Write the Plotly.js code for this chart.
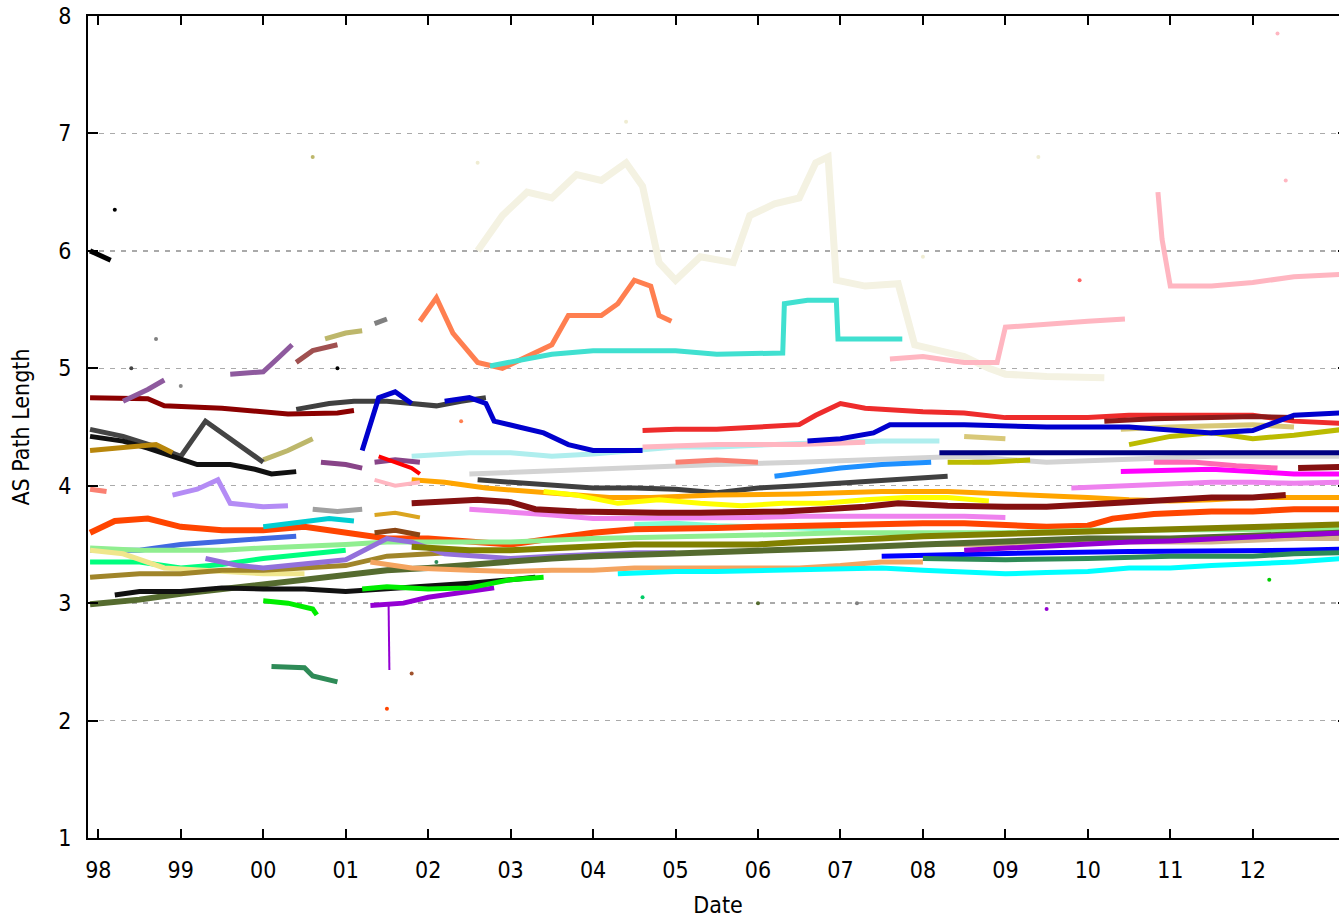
<!DOCTYPE html>
<html><head><meta charset="utf-8">
<script src="https://cdn.plot.ly/plotly-3.0.1.min.js"></script>
<style>html,body{margin:0;padding:0;overflow:hidden;background:#fff}#chart{width:1350px;height:918px}</style>
</head><body><div id="chart"></div>
<script>
// ---- tick labels ----
const tickYears = [1998,1999,2000,2001,2002,2003,2004,2005,2006,2007,2008,2009,2010,2011,2012];
const tickLabels = ['98','99','00','01','02','03','04','05','06','07','08','09','10','11','12'];
const yTicks = [1,2,3,4,5,6,7,8];

// ---- series: [decimal year, AS path length] (null = gap) ----
const sBeige = [[2002.6,6.0],[2002.9,6.3],[2003.2,6.5],[2003.5,6.45],[2003.8,6.65],[2004.1,6.6],[2004.4,6.75],[2004.6,6.55],[2004.8,5.9],[2005.0,5.75],[2005.3,5.95],[2005.7,5.9],[2005.9,6.3],[2006.2,6.4],[2006.5,6.45],[2006.7,6.75],[2006.85,6.8],[2006.95,5.75],[2007.3,5.7],[2007.7,5.72],[2007.9,5.2],[2008.2,5.15],[2008.5,5.1],[2008.8,5.0],[2009.0,4.95],[2009.5,4.93],[2010.0,4.92],[2010.2,4.92]];
const sBlackTopL = [[1997.9,6.0],[1998.15,5.92]];
const sMaroonTop = [[1997.9,4.75],[1998.6,4.74],[1998.8,4.68],[1999.5,4.66],[2000.3,4.61],[2000.9,4.62],[2001.1,4.64]];
const sPurple = [[1998.3,4.72],[1998.6,4.82],[1998.8,4.9],[1999.0,null],[1999.6,4.95],[2000.0,4.97],[2000.2,5.1],[2000.35,5.2]];
const sSienna = [[2000.4,5.05],[2000.6,5.15],[2000.9,5.2]];
const sKhakiDark = [[2000.0,4.22],[2000.3,4.3],[2000.6,4.4],[2000.7,null],[2000.75,5.25],[2001.0,5.3],[2001.2,5.32]];
const sGrayTop = [[2001.35,5.38],[2001.5,5.42]];
const sDarkGrayA = [[1997.9,4.48],[1998.3,4.42],[1998.7,4.33],[1999.0,4.25],[1999.3,4.55],[1999.5,4.45],[1999.8,4.3],[2000.0,4.2]];
const sBlackA = [[1997.9,4.42],[1998.3,4.38],[1998.6,4.32],[1998.9,4.25],[1999.2,4.18],[1999.6,4.18],[1999.9,4.14],[2000.1,4.1],[2000.4,4.12]];
const sDarkGrayB = [[2000.4,4.65],[2000.8,4.7],[2001.1,4.72],[2001.5,4.72],[2001.8,4.7],[2002.1,4.68],[2002.4,4.72],[2002.7,4.75]];
const sGoldenTop = [[1997.9,4.3],[1998.3,4.32],[1998.7,4.35],[1998.9,4.28]];
const sBlueA = [[2001.2,4.3],[2001.4,4.75],[2001.6,4.8],[2001.8,4.7],[2002.0,null],[2002.2,4.72],[2002.5,4.75],[2002.7,4.7],[2002.8,4.55],[2003.1,4.5],[2003.4,4.45],[2003.7,4.35],[2004.0,4.3],[2004.6,4.3],[2005.0,null],[2006.6,4.38],[2007.0,4.4],[2007.4,4.45],[2007.6,4.52],[2008.5,4.52],[2009.5,4.5],[2010.5,4.5],[2011.0,4.47],[2011.5,4.45],[2012.0,4.47],[2012.5,4.6],[2013.1,4.62]];
const sCoral = [[2001.9,5.4],[2002.1,5.6],[2002.3,5.3],[2002.6,5.05],[2002.9,5.0],[2003.2,5.1],[2003.5,5.2],[2003.7,5.45],[2004.1,5.45],[2004.3,5.55],[2004.5,5.75],[2004.7,5.7],[2004.8,5.45],[2004.95,5.4]];
const sTurquoise = [[2002.75,5.02],[2003.0,5.05],[2003.5,5.12],[2004.0,5.15],[2004.5,5.15],[2005.0,5.15],[2005.5,5.12],[2006.0,5.12],[2006.3,5.13],[2006.32,5.55],[2006.6,5.58],[2006.95,5.58],[2006.97,5.25],[2007.5,5.25],[2007.75,5.25]];
const sPink = [[2007.6,5.08],[2008.0,5.1],[2008.5,5.05],[2008.9,5.05],[2009.0,5.35],[2009.5,5.38],[2010.0,5.4],[2010.45,5.42],[2010.6,null],[2010.85,6.5],[2010.9,6.1],[2010.95,5.9],[2011.0,5.7],[2011.5,5.7],[2012.0,5.73],[2012.5,5.78],[2013.1,5.8]];
const sRed = [[2004.6,4.47],[2005.0,4.48],[2005.5,4.48],[2006.0,4.5],[2006.5,4.52],[2006.7,4.6],[2007.0,4.7],[2007.3,4.66],[2008.0,4.63],[2008.5,4.62],[2009.0,4.58],[2009.5,4.58],[2010.0,4.58],[2010.5,4.6],[2011.0,4.6],[2011.5,4.6],[2012.0,4.6],[2012.5,4.55],[2013.1,4.53]];
const sMaroonHigh = [[2010.2,4.55],[2010.8,4.57],[2011.5,4.58],[2012.0,4.59],[2012.5,4.58]];
const sNavy = [[2008.2,4.28],[2009.0,4.28],[2010.0,4.29],[2011.0,4.28],[2012.0,4.28],[2013.1,4.28]];
const sPaleTurq = [[2001.8,4.25],[2002.5,4.28],[2003.0,4.28],[2003.5,4.25],[2004.0,4.27],[2004.6,4.3],[2005.0,4.33],[2005.5,4.33],[2006.0,4.35],[2006.5,4.36],[2007.0,4.37],[2007.5,4.38],[2008.2,4.38]];
const sPinkMid = [[2004.6,4.33],[2005.5,4.35],[2006.5,4.35],[2007.3,4.37],[2008.0,null],[2008.6,4.2],[2009.3,4.22]];
const sLightGray = [[2002.5,4.1],[2003.5,4.13],[2004.5,4.15],[2005.5,4.18],[2006.5,4.2],[2007.5,4.23],[2008.5,4.25],[2009.5,4.2],[2010.5,4.22],[2011.5,4.25],[2012.5,4.25],[2013.1,4.25]];
const sDodger = [[2006.2,4.08],[2006.6,4.12],[2007.0,4.15],[2007.5,4.18],[2008.1,4.2]];
const sDarkGrayC = [[2002.6,4.05],[2003.0,4.03],[2003.5,4.0],[2004.0,3.98],[2004.5,3.98],[2005.0,3.97],[2005.5,3.94],[2006.0,3.98],[2006.5,4.0],[2007.0,4.02],[2007.5,4.05],[2008.0,4.07],[2008.3,4.08]];
const sMaroon = [[2001.8,3.85],[2002.2,3.87],[2002.6,3.88],[2003.0,3.86],[2003.3,3.8],[2003.8,3.78],[2004.3,3.77],[2004.8,3.77],[2005.3,3.77],[2005.8,3.77],[2006.3,3.78],[2006.8,3.8],[2007.3,3.82],[2007.7,3.85],[2008.3,3.83],[2009.0,3.82],[2009.5,3.82],[2010.0,3.84],[2010.5,3.86],[2011.0,3.88],[2011.5,3.9],[2012.0,3.9],[2012.4,3.92],[2012.5,null],[2012.55,4.15],[2013.1,4.16]];
const sOrange = [[2001.8,4.05],[2002.2,4.03],[2002.7,3.98],[2003.2,3.95],[2003.7,3.92],[2004.2,3.9],[2004.7,3.9],[2005.5,3.92],[2006.5,3.93],[2007.5,3.95],[2008.3,3.95],[2009.0,3.93],[2009.5,3.92],[2010.0,3.9],[2010.5,3.88],[2011.0,3.87],[2011.5,3.88],[2012.0,3.9],[2012.5,3.9],[2013.1,3.9]];
const sYellow = [[2003.4,3.95],[2003.8,3.92],[2004.3,3.85],[2004.8,3.88],[2005.3,3.85],[2005.8,3.83],[2006.3,3.85],[2006.8,3.85],[2007.3,3.88],[2007.8,3.9],[2008.3,3.9],[2008.8,3.87]];
const sViolet = [[2002.5,3.8],[2003.0,3.78],[2003.5,3.75],[2004.0,3.72],[2004.5,3.72],[2005.0,3.73],[2005.5,3.72],[2006.0,3.73],[2006.5,3.74],[2007.0,3.74],[2007.5,3.74],[2008.0,3.75],[2008.5,3.74],[2009.0,3.73],[2009.4,null],[2009.8,3.98],[2010.5,4.0],[2011.0,4.02],[2011.5,4.03],[2012.0,4.03],[2012.5,4.02],[2013.1,4.03]];
const sMagenta = [[2010.4,4.12],[2011.0,4.13],[2011.5,4.14],[2012.0,4.12],[2012.5,4.1],[2013.1,4.1]];
const sHotPink = [[2010.8,4.2],[2011.3,4.2],[2011.8,4.17],[2012.3,4.15]];
const sOliveYellow = [[2008.3,4.2],[2008.8,4.2],[2009.3,4.22],[2010.0,null],[2010.5,4.35],[2011.0,4.42],[2011.5,4.45],[2012.0,4.4],[2012.5,4.43],[2013.1,4.48]];
const sKhakiHigh = [[2008.5,4.42],[2009.0,4.4],[2009.5,null],[2010.4,4.48],[2011.0,4.5],[2012.0,4.52],[2012.5,4.5]];
const sOrangeRed = [[1997.9,3.6],[1998.2,3.7],[1998.6,3.72],[1999.0,3.65],[1999.5,3.62],[2000.0,3.62],[2000.5,3.65],[2001.0,3.6],[2001.5,3.55],[2002.0,3.55],[2002.5,3.52],[2003.0,3.5],[2003.5,3.55],[2004.0,3.6],[2004.5,3.63],[2005.0,3.63],[2005.5,3.64],[2006.0,3.65],[2006.5,3.66],[2007.0,3.67],[2007.5,3.67],[2008.0,3.68],[2008.5,3.68],[2009.0,3.67],[2009.5,3.65],[2010.0,3.66],[2010.3,3.72],[2010.8,3.76],[2011.5,3.78],[2012.0,3.78],[2012.5,3.8],[2013.1,3.8]];
const sSalmonL = [[1997.9,3.97],[1998.1,3.95]];
const sSalmonMid = [[2005.0,4.2],[2005.5,4.22],[2006.0,4.2]];
const sLightPurple = [[1998.9,3.92],[1999.2,3.97],[1999.45,4.05],[1999.6,3.85],[2000.0,3.82],[2000.3,3.83]];
const sRoyalBlue = [[1997.9,3.45],[1998.5,3.45],[1999.0,3.5],[1999.5,3.53],[2000.0,3.55],[2000.4,3.57]];
const sLightGreen = [[1997.9,3.47],[1998.5,3.45],[1999.0,3.45],[1999.5,3.45],[2000.0,3.47],[2000.5,3.48],[2001.0,3.5],[2001.5,3.52],[2002.0,3.52],[2003.0,3.52],[2004.0,3.55],[2005.0,3.56],[2006.0,3.58],[2007.0,3.6],[2008.0,3.6],[2009.0,3.6],[2010.0,3.62],[2011.0,3.62],[2012.0,3.63],[2013.1,3.63]];
const sSpringGreen = [[1997.9,3.35],[1998.5,3.35],[1999.0,3.3],[1999.5,3.33],[2000.0,3.38],[2000.5,3.42],[2001.0,3.45]];
const sDarkOliveGreen = [[1997.9,2.99],[1998.5,3.03],[1999.0,3.08],[1999.5,3.12],[2000.0,3.16],[2000.5,3.2],[2001.0,3.24],[2001.5,3.28],[2002.0,3.3],[2002.5,3.33],[2003.0,3.36],[2003.5,3.38],[2004.0,3.4],[2005.0,3.42],[2006.0,3.45],[2007.0,3.47],[2008.0,3.5],[2009.0,3.52],[2010.0,3.55],[2011.0,3.55],[2012.0,3.57],[2013.1,3.6]];
const sBlackLow = [[1998.2,3.07],[1998.5,3.1],[1999.0,3.1],[1999.5,3.13],[2000.0,3.12],[2000.5,3.12],[2001.0,3.1],[2001.5,3.12],[2002.0,3.15],[2002.5,3.17],[2003.0,3.2],[2003.3,3.22]];
const sLime = [[2000.0,3.02],[2000.3,3.0],[2000.6,2.95],[2000.65,2.9],[2000.8,null],[2001.2,3.12],[2001.5,3.14],[2002.0,3.12],[2002.5,3.13],[2003.0,3.2],[2003.4,3.22]];
const sDarkViolet = [[2001.3,2.98],[2001.7,3.0],[2002.0,3.05],[2002.5,3.1],[2002.8,3.13],[2003.0,null],[2008.5,3.45],[2009.0,3.47],[2009.5,3.48],[2010.0,3.5],[2010.5,3.52],[2011.0,3.53],[2011.5,3.55],[2012.0,3.57],[2012.5,3.58],[2013.1,3.6]];
const sVioletSpike = [[2001.52,3.0],[2001.53,2.43]];
const sSeaGreen = [[2000.1,2.46],[2000.5,2.45],[2000.6,2.38],[2000.9,2.33],[2001.0,null],[2008.0,3.38],[2009.0,3.37],[2010.0,3.38],[2011.0,3.4],[2012.0,3.4],[2012.5,3.42],[2013.1,3.43]];
const sDarkGoldenrod = [[1997.9,3.22],[1998.5,3.25],[1999.0,3.25],[1999.5,3.28],[2000.0,3.28],[2000.5,3.3],[2001.0,3.32],[2001.5,3.4],[2002.0,3.42],[2002.5,3.44]];
const sKhaki = [[1997.9,3.45],[1998.3,3.42],[1998.8,3.3],[1999.5,3.27],[2000.0,3.25],[2000.5,3.25]];
const sMediumPurple = [[1999.3,3.38],[1999.7,3.32],[2000.0,3.3],[2000.5,3.33],[2001.0,3.37],[2001.5,3.55],[2001.8,3.52],[2002.2,3.42],[2002.7,3.4],[2003.0,3.38],[2003.5,3.4],[2004.0,3.42],[2004.5,3.43],[2005.0,3.43]];
const sOlive = [[2001.8,3.48],[2002.5,3.45],[2003.0,3.45],[2003.5,3.47],[2004.0,3.48],[2004.5,3.5],[2005.0,3.5],[2005.5,3.5],[2006.0,3.5],[2006.5,3.52],[2007.0,3.53],[2007.5,3.55],[2008.0,3.57],[2008.5,3.58],[2009.0,3.6],[2009.5,3.6],[2010.0,3.62],[2010.5,3.63],[2011.0,3.63],[2011.5,3.64],[2012.0,3.65],[2012.5,3.66],[2013.1,3.67]];
const sSandy = [[2001.3,3.35],[2001.8,3.3],[2002.5,3.28],[2003.0,3.27],[2003.5,3.28],[2004.0,3.28],[2004.5,3.3],[2005.0,3.3],[2005.5,3.3],[2006.0,3.3],[2006.5,3.3],[2007.0,3.32],[2007.5,3.35],[2008.0,3.35]];
const sCyan = [[2004.3,3.25],[2005.0,3.27],[2005.5,3.27],[2006.0,3.28],[2006.5,3.28],[2007.0,3.3],[2007.5,3.3],[2008.0,3.28],[2008.5,3.27],[2009.0,3.25],[2009.5,3.26],[2010.0,3.27],[2010.5,3.3],[2011.0,3.3],[2011.5,3.32],[2012.0,3.33],[2012.5,3.35],[2013.1,3.38]];
const sBlue = [[2007.5,3.4],[2008.5,3.42],[2009.5,3.43],[2010.5,3.44],[2011.5,3.44],[2012.5,3.45],[2013.1,3.46]];
const sTan = [[2007.8,3.5],[2008.5,3.5],[2009.5,3.5],[2010.5,3.52],[2011.5,3.52],[2012.5,3.55],[2013.1,3.55]];
const sAquamarine = [[2004.5,3.67],[2005.0,3.68],[2005.5,3.66],[2006.0,3.65],[2006.5,3.64],[2007.0,3.63]];
const sDarkTurq = [[2000.0,3.65],[2000.4,3.68],[2000.8,3.72],[2001.1,3.7]];
const sPlumBrown = [[2000.7,4.2],[2001.0,4.18],[2001.2,4.15],[2001.3,null],[2001.35,4.2],[2001.6,4.22],[2001.9,4.2]];
const sRedCluster = [[2001.4,4.25],[2001.6,4.2],[2001.8,4.15],[2001.9,4.1]];
const sPinkCluster = [[2001.35,4.05],[2001.6,4.0],[2001.9,4.03]];
const sGrayMid = [[2000.6,3.8],[2000.9,3.78],[2001.2,3.8]];
const sSaddle = [[2001.35,3.6],[2001.6,3.62],[2001.9,3.58]];
const sGoldMid = [[2001.35,3.75],[2001.6,3.77],[2001.9,3.73]];

// outlier dots [year, value] and their colours
const outlierPts = [[1998.2,6.35],[2000.6,6.8],[2002.6,6.75],[2012.4,6.6],[2012.3,7.85],[2001.5,2.1],[2001.8,2.4],[1998.7,5.25],[2004.4,7.1],[2009.4,6.8],[2000.9,5.0],[2002.4,4.55],[2009.9,5.75],[2008.0,5.95],[1998.4,5.0],[1999.0,4.85],[2002.1,3.35],[2004.6,3.05],[2006.0,3.0],[2007.2,3.0],[2009.5,2.95],[2012.2,3.2]];
const outlierColors = ['#000000','#BDB76B','#EFECD2','#FFB6C1','#FFB6C1','#FF4500','#A0522D','#808080','#EFECD2','#EFECD2','#000000','#FF7F50','#FF6666','#EFECD2','#444444','#888888','#2E8B57','#00CC66','#556B2F','#808080','#9400D3','#00CC00'];

// style mapping (series -> colour, width)
const SERIES = [
 [sBeige,'#F4F2E2',7],
 [sBlackTopL,'#000000',5],[sMaroonTop,'#8B0000',5],[sPurple,'#8E5A9E',5],[sSienna,'#A05050',5],[sKhakiDark,'#BDB76B',5],[sGrayTop,'#808080',5],
 [sDarkGrayA,'#444444',5],[sBlackA,'#111111',5],[sDarkGrayB,'#404040',5],[sGoldenTop,'#B8860B',5],
 [sCoral,'#FF7F50',5],[sTurquoise,'#40E0D0',5],[sPink,'#FFB6C1',5],
 [sPaleTurq,'#AFEEEE',5],[sPinkMid,'#FFB6C1',5],[sLightGray,'#D3D3D3',5],[sSalmonMid,'#FA8072',5],[sDodger,'#1E90FF',5],
 [sDarkGrayC,'#404040',5],[sOrange,'#FFA500',5],[sYellow,'#FFFF00',5],[sViolet,'#EE82EE',5],[sMagenta,'#FF00FF',5],[sHotPink,'#FF69B4',5],
 [sOliveYellow,'#BBBB00',5],[sKhakiHigh,'#D8C878',5],[sRed,'#EE2C2C',5],[sMaroonHigh,'#8B1A1A',5],[sNavy,'#000080',5],[sBlueA,'#0000CD',5],
 [sMaroon,'#841010',6],[sAquamarine,'#7FFFD4',5],[sOrangeRed,'#FF4500',6],[sSalmonL,'#FA8072',5],[sLightPurple,'#B48CF5',5],
 [sRoyalBlue,'#4169E1',5],[sLightGreen,'#90EE90',5],[sSpringGreen,'#00FF7F',5],[sKhaki,'#F0E68C',5],[sDarkGoldenrod,'#A0852A',5],
 [sMediumPurple,'#9370DB',5],[sOlive,'#808000',6],[sTan,'#D2B48C',5],[sDarkOliveGreen,'#556B2F',6],[sSandy,'#F4A460',5],
 [sCyan,'#00FFFF',5],[sBlue,'#0000FF',5],[sSeaGreen,'#2E8B57',5],[sDarkViolet,'#9400D3',5],[sVioletSpike,'#9400D3',2],
 [sBlackLow,'#111111',5],[sLime,'#00EE00',5],[sDarkTurq,'#00CED1',5],
 [sPlumBrown,'#884488',5],[sRedCluster,'#FF0000',4],[sPinkCluster,'#FFB6C1',4],[sGrayMid,'#A0A0A0',5],[sSaddle,'#8B4513',5],[sGoldMid,'#DAA520',4]
];

const traces = SERIES.map(([pts,color,w]) => ({
  type:'scatter', mode:'lines',
  x: pts.map(p=>p[0]), y: pts.map(p=>p[1]),
  line:{color:color,width:w}, connectgaps:false, hoverinfo:'skip'
}));
traces.push({type:'scatter',mode:'markers',x:outlierPts.map(p=>p[0]),y:outlierPts.map(p=>p[1]),
  marker:{color:outlierColors,size:4},hoverinfo:'skip'});

const FONT = 'Liberation Sans Narrow, DejaVu Sans Condensed, Liberation Sans, sans-serif';
const layout = {
  width:1350, height:918,
  margin:{l:88,r:2,t:16,b:80},
  paper_bgcolor:'#fff', plot_bgcolor:'#fff', showlegend:false,
  xaxis:{range:[1997.875,2013.155], tickvals:tickYears, ticktext:tickLabels,
    ticks:'inside', ticklen:9, tickwidth:2, tickcolor:'#000',
    showline:true, linecolor:'#000', linewidth:2, mirror:'ticks',
    showgrid:false, zeroline:false, ticklabelstandoff:10,
    tickfont:{family:FONT,size:23,color:'#000'},
    title:{text:'Date', font:{family:FONT,size:23,color:'#000'}, standoff:20}},
  yaxis:{range:[1,8], tickvals:yTicks, ticks:'inside', ticklen:10, tickwidth:2, tickcolor:'#000',
    showline:true, linecolor:'#000', linewidth:2, mirror:'ticks',
    showgrid:true, gridcolor:'#aaaaaa', gridwidth:1.5, griddash:'5px,6px', zeroline:false,
    ticklabelstandoff:10,
    tickfont:{family:FONT,size:23,color:'#000'},
    title:{text:'AS Path Length', font:{family:FONT,size:23,color:'#000'}, standoff:22}}
};
Plotly.newPlot('chart', traces, layout, {staticPlot:true, displayModeBar:false});
</script></body></html>
